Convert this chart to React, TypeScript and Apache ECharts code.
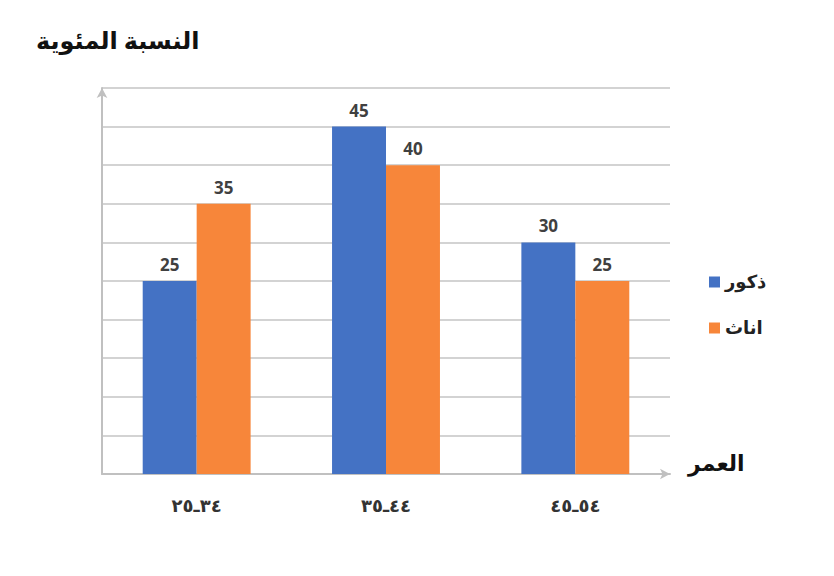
import React, { useEffect, useRef } from "react";
import * as echarts from "echarts";

const categories = ["\u202D٢٥ـ٣٤\u202C", "\u202D٣٥ـ٤٤\u202C", "\u202D٤٥ـ٥٤\u202C"];
const males = [25, 45, 30];
const females = [35, 40, 25];
const seriesNames = ["ذكور", "اناث"];
const titleText = "النسبة المئوية";
const xAxisTitle = "العمر";

const arabicFont = "'Times New Roman', 'DejaVu Serif', 'DejaVu Sans', serif";

export default function App() {
  const ref = useRef<HTMLDivElement>(null);
  useEffect(() => {
    if (!ref.current) return;
    const chart = echarts.init(ref.current, null, { renderer: "svg" });
    const labelStyle = {
      show: true,
      position: "top",
      distance: 8,
      fontFamily: "'Open Sans', sans-serif",
      fontWeight: "bold",
      fontSize: 17,
      color: "#404040",
    };
    chart.setOption({
      animation: false,
      backgroundColor: "#ffffff",
      grid: { left: 102, right: 164, top: 88, bottom: 102 },
      legend: {
        orient: "vertical",
        left: 704,
        top: 268,
        itemWidth: 11,
        itemHeight: 11,
        itemGap: 28,
        icon: "rect",
        data: seriesNames,
        textStyle: {
          fontFamily: arabicFont,
          fontWeight: "bold",
          fontSize: 18,
          color: "#222",
        },
      },
      xAxis: {
        type: "category",
        data: categories,
        axisLine: {
          show: true,
          symbol: ["none", "arrow"],
          symbolSize: [8, 10],
          lineStyle: { color: "#c0c0c0", width: 2 },
        },
        axisTick: { show: false },
        axisLabel: {
          margin: 22,
          fontFamily: "'DejaVu Sans', sans-serif",
          fontWeight: "bold",
          fontSize: 18,
          color: "#333",
        },
      },
      yAxis: {
        type: "value",
        min: 0,
        max: 50,
        interval: 5,
        axisLine: {
          show: true,
          symbol: ["none", "arrow"],
          symbolSize: [8, 10],
          lineStyle: { color: "#c0c0c0", width: 2 },
        },
        axisTick: { show: false },
        axisLabel: { show: false },
        splitLine: { lineStyle: { color: "#d3d3d3", width: 2 } },
      },
      series: [
        {
          name: seriesNames[0],
          type: "bar",
          data: males,
          barGap: "0%",
          barCategoryGap: "43%",
          itemStyle: { color: "#4472c4" },
          label: labelStyle,
        },
        {
          name: seriesNames[1],
          type: "bar",
          data: females,
          itemStyle: { color: "#f7863a" },
          label: labelStyle,
        },
      ],
      graphic: [
        {
          type: "text",
          left: 36,
          top: 29,
          style: {
            text: titleText,
            font: `bold 24px ${arabicFont}`,
            fill: "#111",
          },
        },
        {
          type: "text",
          left: 688,
          top: 452,
          style: {
            text: xAxisTitle,
            font: `bold 22px ${arabicFont}`,
            fill: "#111",
          },
        },
      ],
    });
    return () => chart.dispose();
  }, []);
  return (
    <div
      ref={ref}
      style={{ position: "absolute", left: 0, top: 0, width: 834, height: 576 }}
    />
  );
}
